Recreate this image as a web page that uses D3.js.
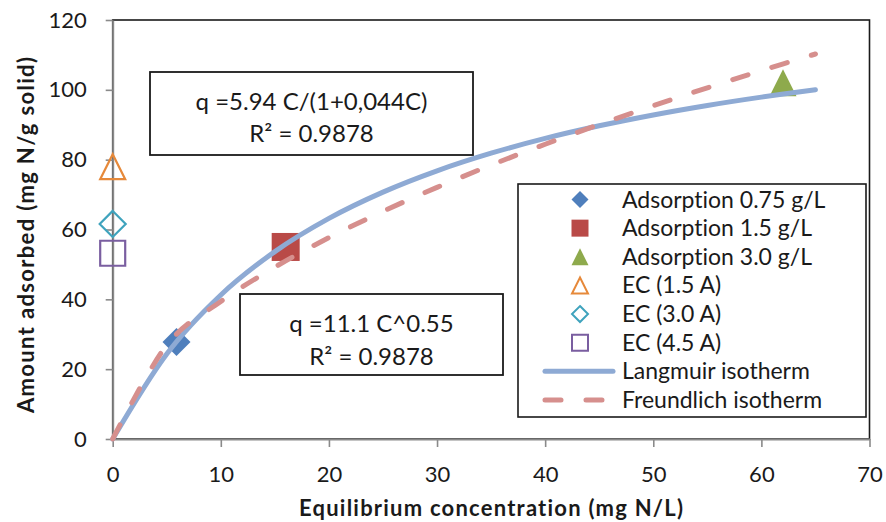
<!DOCTYPE html>
<html>
<head>
<meta charset="utf-8">
<script src="https://cdn.jsdelivr.net/npm/d3@7"></script>
<style>
  html, body { margin: 0; padding: 0; background: #ffffff; }
  svg { display: block; font-family: Lato, "Open Sans", sans-serif; font-variant-ligatures: none; }
</style>
</head>
<body>
<svg id="chart" width="886" height="522"></svg>
<script>
// Measured adsorption points: equilibrium concentration C (mg N/L) vs q (mg N/g solid)
const adsorption075 = [{ c: 5.9, q: 27.8 }];
const adsorption15 = [{ c: 16, q: 55 }];
const adsorption30 = [{ c: 62, q: 102 }];
// Electrocoagulation runs (reported at C = 0)
const ec15 = [{ c: 0, q: 78 }];
const ec30 = [{ c: 0, q: 61.6 }];
const ec45 = [{ c: 0, q: 53.2 }];

// Fitted isotherm parameters, as printed in the equation boxes
const langmuirA = 5.94, langmuirB = 0.044;
const freundlichK = 11.1, freundlichN = 0.55;
// Concentrations at which the fitted curves are evaluated
const fitConcentrations = [0, 5, 10, 15, 20, 25, 30, 35, 40, 45, 50, 55, 60, 65];

const xTicks = [0, 10, 20, 30, 40, 50, 60, 70];
const yTicks = [0, 20, 40, 60, 80, 100, 120];

const legendItems = [
  { label: "Adsorption 0.75 g/L", type: "diamond", fill: "#4f7fbc", stroke: "none" },
  { label: "Adsorption 1.5 g/L", type: "square", fill: "#b94a47", stroke: "none" },
  { label: "Adsorption 3.0 g/L", type: "triangle", fill: "#8eaa4c", stroke: "none" },
  { label: "EC (1.5 A)", type: "triangle", fill: "none", stroke: "#e6893a" },
  { label: "EC (3.0 A)", type: "diamond", fill: "none", stroke: "#3fa3bd" },
  { label: "EC (4.5 A)", type: "square", fill: "none", stroke: "#7a5ea0" },
  { label: "Langmuir isotherm", type: "line", color: "#8eaad4", dash: null },
  { label: "Freundlich isotherm", type: "line", color: "#d68f8d", dash: "16,25" }
];

const svg = d3.select("#chart");
const x = d3.scaleLinear().domain([0, 70]).range([112.7, 869.5]);
const y = d3.scaleLinear().domain([0, 120]).range([439, 20]);

// Plot-area frame
svg.append("rect")
  .attr("x", x(0)).attr("y", y(120))
  .attr("width", x(70) - x(0)).attr("height", y(0) - y(120))
  .attr("fill", "none").attr("stroke", "#1a1a1a").attr("stroke-width", 1.6);

// Axes
const axisColor = "#8a8a8a";
const xAxis = svg.append("g").attr("transform", `translate(0,${y(0)})`)
  .call(d3.axisBottom(x).tickValues(xTicks).tickSize(8).tickSizeOuter(0).tickPadding(19));
const yAxis = svg.append("g").attr("transform", `translate(${x(0)},0)`)
  .call(d3.axisLeft(y).tickValues(yTicks).tickSize(7).tickSizeOuter(0).tickPadding(19));
[xAxis, yAxis].forEach(g => {
  g.attr("font-family", "Lato, sans-serif").attr("font-size", 22);
  g.select(".domain").attr("stroke", axisColor).attr("stroke-width", 2);
  g.selectAll(".tick line").attr("stroke", axisColor).attr("stroke-width", 1.6);
  g.selectAll(".tick text").attr("fill", "#1a1a1a");
});

// Axis titles
svg.append("text")
  .attr("x", 491).attr("y", 516)
  .attr("text-anchor", "middle").attr("font-weight", "bold").attr("font-size", 22)
  .attr("textLength", 384).attr("lengthAdjust", "spacing")
  .attr("fill", "#1a1a1a")
  .text("Equilibrium concentration (mg N/L)");
svg.append("text")
  .attr("transform", "translate(34,235) rotate(-90)")
  .attr("text-anchor", "middle").attr("font-weight", "bold").attr("font-size", 22)
  .attr("textLength", 356).attr("lengthAdjust", "spacing")
  .attr("fill", "#1a1a1a")
  .text("Amount adsorbed (mg N/g solid)");

// Marker shapes
function markerPath(type, s) {
  const h = s / 2;
  if (type === "diamond") return `M0,${-h}L${h},0L0,${h}L${-h},0Z`;
  if (type === "square") return `M${-h},${-h}H${h}V${h}H${-h}Z`;
  if (type === "triangle") return `M0,${-h}L${h},${h}L${-h},${h}Z`;
  return "";
}

function drawPoints(data, item, size) {
  svg.append("g").selectAll("path").data(data).join("path")
    .attr("transform", d => `translate(${x(d.c)},${y(d.q)})`)
    .attr("d", markerPath(item.type, size))
    .attr("fill", item.fill)
    .attr("stroke", item.stroke === "none" ? "none" : item.stroke)
    .attr("stroke-width", 2.2);
}

drawPoints(adsorption075, legendItems[0], 28);
drawPoints(adsorption15, legendItems[1], 28);
drawPoints(adsorption30, legendItems[2], 27);
drawPoints(ec15, legendItems[3], 25);
drawPoints(ec30, legendItems[4], 26);
drawPoints(ec45, legendItems[5], 25);

// Isotherm curves, smoothed through the evaluated points
const line = d3.line().x(d => x(d.c)).y(d => y(d.q)).curve(d3.curveCatmullRom.alpha(0));
const langmuirPts = fitConcentrations.map(c => ({ c, q: langmuirA * c / (1 + langmuirB * c) }));
const freundlichPts = fitConcentrations.map(c => ({ c, q: freundlichK * Math.pow(c, freundlichN) }));

svg.append("path").datum(langmuirPts)
  .attr("d", line).attr("fill", "none")
  .attr("stroke", "#8eaad4").attr("stroke-width", 5).attr("stroke-linecap", "round");
svg.append("path").datum(freundlichPts)
  .attr("d", line).attr("fill", "none")
  .attr("stroke", "#d68f8d").attr("stroke-width", 5).attr("stroke-linecap", "round")
  .attr("stroke-dasharray", "16,25");

// Equation boxes
function equationBox(x0, y0, w, h, lines, baselines) {
  const g = svg.append("g");
  g.append("rect").attr("x", x0).attr("y", y0).attr("width", w).attr("height", h)
    .attr("fill", "#ffffff").attr("stroke", "#1a1a1a").attr("stroke-width", 1.8);
  lines.forEach((t, i) => {
    g.append("text").attr("x", x0 + w / 2).attr("y", baselines[i])
      .attr("text-anchor", "middle").attr("font-size", 24).attr("fill", "#1a1a1a")
      .text(t);
  });
}
equationBox(150, 72, 323, 83, ["q =5.94 C/(1+0,044C)", "R² = 0.9878"], [110, 142]);
equationBox(240, 294, 263, 81, ["q =11.1 C^0.55", "R² = 0.9878"], [332, 365]);

// Legend
const legend = svg.append("g");
legend.append("rect").attr("x", 518).attr("y", 184).attr("width", 348).attr("height", 233)
  .attr("fill", "#ffffff").attr("stroke", "#1a1a1a").attr("stroke-width", 1.6);
const rowY = d3.scaleLinear().domain([0, 7]).range([199.5, 400]);
legendItems.forEach((item, i) => {
  const cy = rowY(i);
  if (item.type === "line") {
    legend.append("line").attr("x1", 545).attr("x2", 613).attr("y1", cy).attr("y2", cy)
      .attr("stroke", item.color).attr("stroke-width", 5).attr("stroke-linecap", "round")
      .attr("stroke-dasharray", item.dash);
  } else {
    legend.append("path").attr("transform", `translate(580,${cy})`)
      .attr("d", markerPath(item.type, item.fill === "none" ? 16 : 17))
      .attr("fill", item.fill)
      .attr("stroke", item.stroke === "none" ? "none" : item.stroke)
      .attr("stroke-width", 2);
  }
  legend.append("text").attr("x", 622).attr("y", cy).attr("dy", "0.35em")
    .attr("font-size", 23).attr("fill", "#1a1a1a").text(item.label);
});
</script>
</body>
</html>
